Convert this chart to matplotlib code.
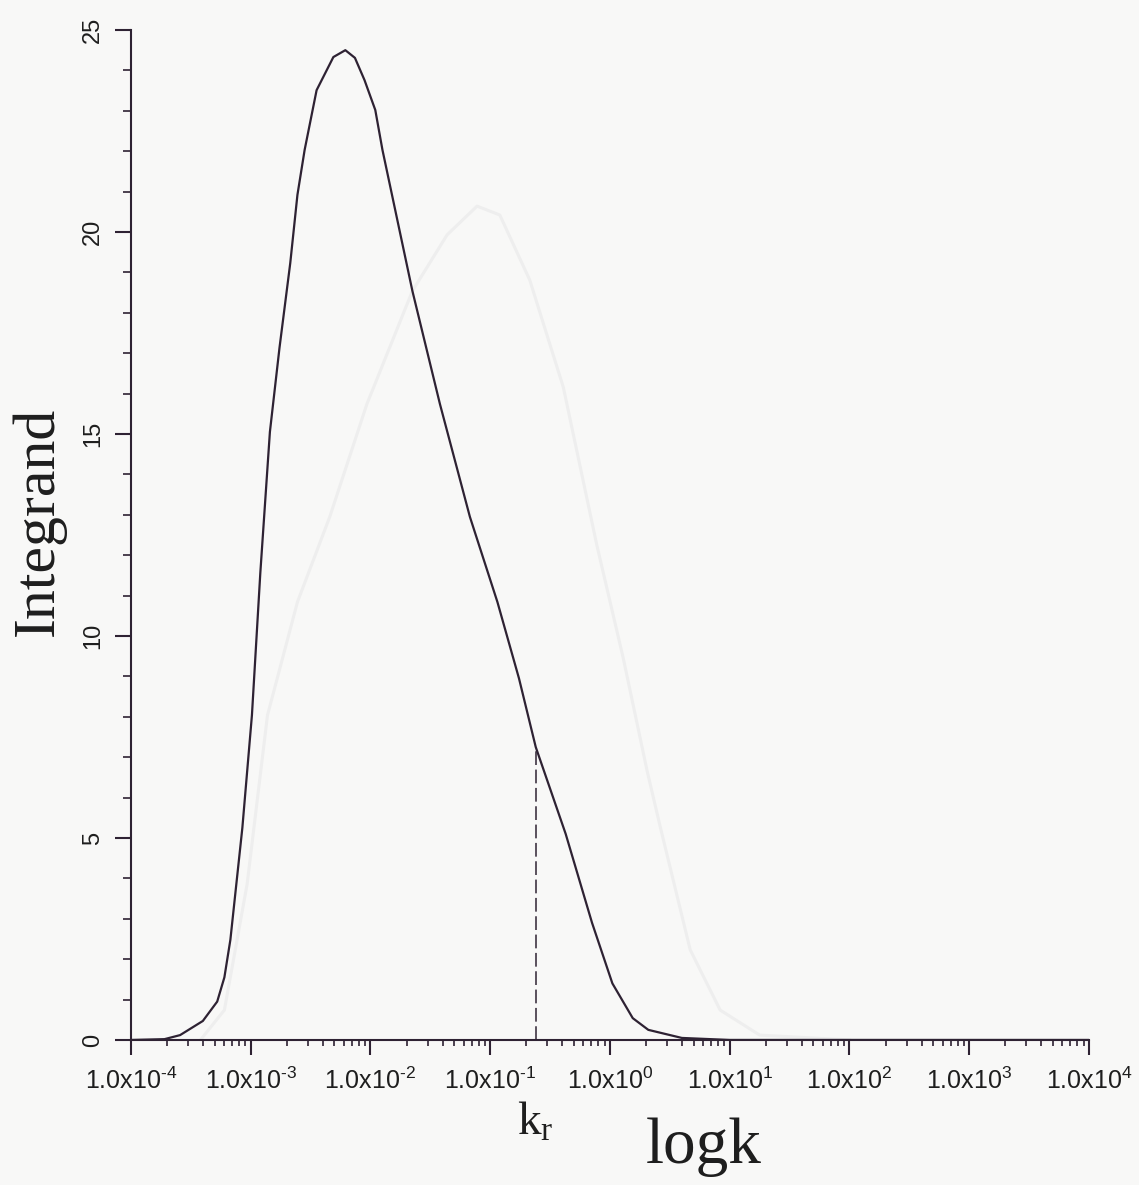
import matplotlib
matplotlib.use("Agg")
import matplotlib.pyplot as plt
import matplotlib.transforms as mtransforms
import numpy as np
from matplotlib.ticker import MultipleLocator, LogLocator, NullFormatter

# integrand vs wavenumber (log10 k)
logk = [-4.00, -3.72, -3.59, -3.40, -3.28, -3.22, -3.17, -3.07, -2.99, -2.92,
        -2.84, -2.76, -2.67, -2.61, -2.55, -2.45, -2.31, -2.21, -2.13, -2.05,
        -1.96, -1.90, -1.65, -1.42, -1.17, -0.94, -0.76, -0.62, -0.37, -0.15,
        0.02, 0.19, 0.32, 0.60, 1.00, 2.0, 3.0, 4.0]
integrand = [0.0, 0.02, 0.12, 0.47, 0.95, 1.55, 2.48, 5.25, 8.04, 11.56,
             15.05, 17.13, 19.23, 20.92, 22.03, 23.51, 24.33, 24.50, 24.31, 23.76,
             23.02, 22.03, 18.54, 15.74, 12.95, 10.84, 8.95, 7.25, 5.10, 2.90,
             1.40, 0.54, 0.25, 0.05, 0.0, 0.0, 0.0, 0.0]

# faint curve showing through from the facing page
ghost_logk = [-3.42, -3.22, -3.03, -2.86, -2.61, -2.34, -2.03, -1.65, -1.36, -1.11,
              -0.92, -0.67, -0.39, -0.11, 0.11, 0.31, 0.42, 0.67, 0.92, 1.25, 2.0]
ghost_val = [0.0, 0.74, 3.86, 8.04, 10.84, 12.95, 15.74, 18.54, 19.93, 20.64,
             20.42, 18.81, 16.16, 12.25, 9.46, 6.66, 5.27, 2.23, 0.74, 0.12, 0.0]

log_kr = -0.62
decades = [-4, -3, -2, -1, 0, 1, 2, 3, 4]
# plain hyphen in the exponent, as typeset on the axis
xlabels = ["1.0x10$^{%s}$" % str(d).replace("-", "\u2010") for d in decades]
yticks = [0, 5, 10, 15, 20, 25]

plt.rcParams["mathtext.default"] = "regular"
bg = "#f8f8f7"
ink = "#2e2233"
txt = "#1e1e1e"

fig = plt.figure(figsize=(11.39, 11.85), dpi=100, facecolor=bg)
ax = fig.add_axes([0.1150, 0.1224, 0.8411, 0.8523], facecolor=bg)

k = 10.0 ** np.array(logk)
ax.plot(10.0 ** np.array(ghost_logk), ghost_val, color="#eeeeee", lw=2.2, zorder=1)
ax.plot(k, integrand, color=ink, lw=1.6, zorder=3)

# dashed marker at k_r up to the curve
kr_val = np.interp(log_kr, logk, integrand)
ax.plot([10 ** log_kr, 10 ** log_kr], [0, kr_val], color=ink, lw=1.1,
        ls=(0, (9, 3)), zorder=2)

ax.set_xscale("log")
ax.set_xlim(1e-4, 1e4)
ax.set_ylim(0, 25)

for s in ["top", "right"]:
    ax.spines[s].set_visible(False)
for s in ["left", "bottom"]:
    ax.spines[s].set_color(ink)
    ax.spines[s].set_linewidth(1.5)

ax.set_xticks([10.0 ** d for d in decades])
ax.set_xticklabels(xlabels, fontfamily="Liberation Sans", fontsize=18, color=txt)
ax.xaxis.set_minor_locator(LogLocator(base=10, subs=np.arange(2, 10), numticks=20))
ax.xaxis.set_minor_formatter(NullFormatter())
ax.tick_params(axis="x", which="major", length=11, width=1.5, color=ink, pad=9)
ax.tick_params(axis="x", which="minor", length=4.5, width=1.2, color=ink)

ax.set_yticks(yticks)
ax.yaxis.set_minor_locator(MultipleLocator(1))
ax.set_yticklabels([str(v) for v in yticks], fontfamily="Liberation Sans",
                   fontsize=17, rotation=90, va="center", color=txt)
ax.tick_params(axis="y", which="major", length=11.5, width=1.5, color=ink, pad=8)
ax.tick_params(axis="y", which="minor", length=6, width=1.2, color=ink)

# axis titles
trans = mtransforms.blended_transform_factory(ax.transData, fig.transFigure)
ax.text(10 ** log_kr, 0.0422, "k$_{r}$", transform=trans, fontfamily="Liberation Serif",
        fontsize=34, ha="center", va="baseline", color=txt)
fig.text(0.618, 0.0186, "logk", fontfamily="Liberation Serif", fontsize=47,
         ha="center", va="baseline", color=txt)
fig.text(0.0342, 0.5603, "Integrand", fontfamily="Liberation Serif", fontsize=43,
         rotation=90, ha="center", va="center", color=txt)

fig.savefig("out.png", dpi=100, facecolor=bg)
